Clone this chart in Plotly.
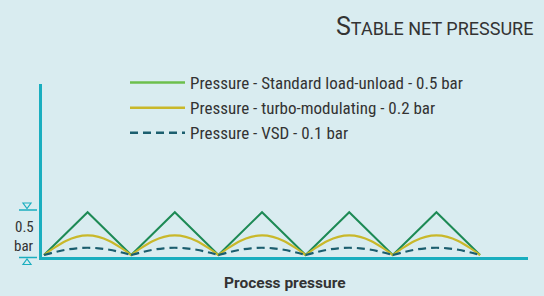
import plotly.graph_objects as go

# ---- data ----
cycles = [0, 1, 2, 3, 4]
arc_fraction = [0, 0.125, 0.25, 0.375, 0.5, 0.625, 0.75, 0.875, 1.0]
standard_fraction = [0, 0.5, 1.0]
standard_profile = [0, 0.5, 0]                                   # bar
turbo_profile = [0, 0.09, 0.165, 0.213, 0.23, 0.213, 0.165, 0.09, 0]  # bar
vsd_profile = [0, 0.034, 0.062, 0.079, 0.085, 0.079, 0.062, 0.034, 0]  # bar

names = [
    "Pressure - Standard load-unload - 0.5 bar",
    "Pressure - turbo-modulating - 0.2 bar",
    "Pressure - VSD - 0.1 bar",
]
title_cap = "S"
title_rest = "TABLE NET PRESSURE"
x_title = "Process pressure"
scale_labels = ["0.5", "bar"]

# ---- build series ----
def build(frac, prof, gaps):
    xs, ys = [], []
    for c in cycles:
        for f, v in zip(frac, prof):
            if not gaps and xs and f == 0:
                continue
            xs.append(c + f)
            ys.append(v)
        if gaps:
            xs.append(None)
            ys.append(None)
    return xs, ys

gx, gy = build(standard_fraction, standard_profile, False)
tx, ty = build(arc_fraction, turbo_profile, True)
vx, vy = build(arc_fraction, vsd_profile, True)

BG = "#d9ecf0"
TEAL = "#1aaebf"
FONT = "Roboto Condensed, Liberation Sans Narrow, DejaVu Sans Condensed, sans-serif"
WFONT = "Roboto, Liberation Sans, sans-serif"
TXT = "#333333"

fig = go.Figure()
fig.add_trace(go.Scatter(x=gx, y=gy, mode="lines", showlegend=False,
                         line=dict(color="#1d8a55", width=2), name=names[0]))
fig.add_trace(go.Scatter(x=tx, y=ty, mode="lines", showlegend=False,
                         line=dict(color="#c9b82a", width=2.2, shape="spline"), name=names[1]))
fig.add_trace(go.Scatter(x=vx, y=vy, mode="lines", showlegend=False,
                         line=dict(color="#1b5e6e", width=2.2, shape="spline", dash="8px,5px"),
                         name=names[2]))
# legend entries
fig.add_trace(go.Scatter(x=[None], y=[None], mode="lines", name=names[0],
                         line=dict(color="#6cbf4c", width=2.5)))
fig.add_trace(go.Scatter(x=[None], y=[None], mode="lines", name=names[1],
                         line=dict(color="#c9b82a", width=2.5)))
fig.add_trace(go.Scatter(x=[None], y=[None], mode="lines", name=names[2],
                         line=dict(color="#1b5e6e", width=2.5, dash="8px,5px")))

L, R, T, B = 42, 16, 84, 39
W, H = 544, 296
PW, PH = W - L - R, H - T - B

def px(x):
    return (x - L) / PW

def py(y):
    return (H - B - y) / PH

shapes = [
    dict(type="line", xref="paper", yref="paper", x0=px(19), x1=px(37), y0=py(210), y1=py(210),
         line=dict(color=TEAL, width=1.5)),
    dict(type="line", xref="paper", yref="paper", x0=px(19), x1=px(37), y0=py(257.5), y1=py(257.5),
         line=dict(color=TEAL, width=1.5)),
    dict(type="path", xref="paper", yref="paper",
         path=f"M {px(23)},{py(203)} L {px(31)},{py(203)} L {px(27)},{py(208.5)} Z",
         line=dict(color=TEAL, width=1.2)),
    dict(type="path", xref="paper", yref="paper",
         path=f"M {px(23)},{py(264.5)} L {px(31)},{py(264.5)} L {px(27)},{py(259)} Z",
         line=dict(color=TEAL, width=1.2)),
]

annotations = [
    dict(xref="paper", yref="paper", x=px(535), y=py(26), xanchor="right", yanchor="middle",
         showarrow=False,
         text=f"{title_cap}<span style='font-size:18px'>{title_rest}</span>",
         font=dict(family=WFONT, size=25, color=TXT)),
    dict(xref="paper", yref="paper", x=px(24), y=py(227), xanchor="center", yanchor="middle",
         showarrow=False, text=scale_labels[0], font=dict(family=FONT, size=15, color=TXT)),
    dict(xref="paper", yref="paper", x=px(24), y=py(246), xanchor="center", yanchor="middle",
         showarrow=False, text=scale_labels[1], font=dict(family=FONT, size=15, color=TXT)),
    dict(xref="paper", yref="paper", x=0.5, y=py(283), xanchor="center", yanchor="middle",
         showarrow=False, text=f"<b>{x_title}</b>",
         font=dict(family=WFONT, size=15.5, color=TXT)),
]

fig.update_layout(
    width=W, height=H,
    margin=dict(l=L, r=R, t=T, b=B, autoexpand=False),
    paper_bgcolor=BG, plot_bgcolor=BG,
    shapes=shapes, annotations=annotations,
    legend=dict(x=px(125), y=py(65), xanchor="left", yanchor="top",
                bgcolor="rgba(0,0,0,0)", font=dict(family=FONT, size=17, color=TXT),
                itemwidth=55, tracegroupgap=0),
    xaxis=dict(range=[-0.023, 5.55], showgrid=False, zeroline=False, showticklabels=False,
               ticks="", showline=True, linecolor=TEAL, linewidth=2.5, fixedrange=True,
               automargin=False),
    yaxis=dict(range=[-0.023, 2.0], showgrid=False, zeroline=False, showticklabels=False,
               ticks="", showline=True, linecolor=TEAL, linewidth=2.5, fixedrange=True,
               automargin=False),
)

fig.write_html("out.html", config={"displayModeBar": False},
               post_script="document.body.style.margin='0';document.body.style.background='" + BG + "';")
